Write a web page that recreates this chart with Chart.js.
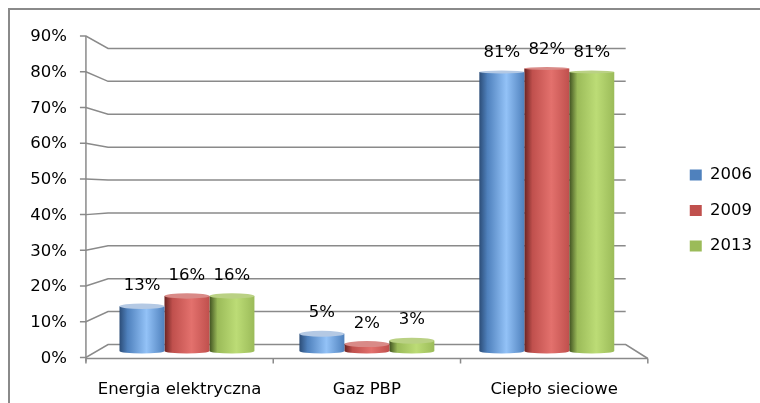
<!DOCTYPE html>
<html lang="pl">
<head>
<meta charset="utf-8">
<title>Struktura zużycia energii</title>
<script src="https://cdn.jsdelivr.net/npm/chart.js@4.4.1/dist/chart.umd.min.js"></script>
<style>
    html, body { margin: 0; padding: 0; background: #fff; overflow: hidden; }
    #okno { position: relative; width: 760px; height: 403px; overflow: hidden; }
    /* ramka obszaru wykresu (ucięta z prawej i od dołu) */
    #ramka { position: absolute; left: 8px; top: 8px; width: 820px; height: 460px; border: 2px solid #8a8a8a; }
    #wykres { position: absolute; left: 0; top: 0; }
</style>
</head>
<body>
<div id="okno">
    <div id="ramka"></div>
    <canvas id="wykres" width="760" height="403"></canvas>
</div>
<script>
// Dane
const kategorie = ['Energia elektryczna', 'Gaz PBP', 'Ciepło sieciowe'];
const lata = ['2006', '2009', '2013'];
const udzialy2006 = [13, 5, 81];
const udzialy2009 = [16, 2, 82];
const udzialy2013 = [16, 3, 81];
const podzialkaY = [0, 10, 20, 30, 40, 50, 60, 70, 80, 90];

const serie = [udzialy2006, udzialy2009, udzialy2013];

// Kolory walców: ciemna krawędź, środek, odblask, wieczko
const kolory = [
    { ciemny: '#2c4d78', sredni: '#4f81bd', jasny: '#93c2f7', wieczko: '#b4c9e4' },
    { ciemny: '#6a2321', sredni: '#c0504d', jasny: '#e3716d', wieczko: '#d98a87' },
    { ciemny: '#405220', sredni: '#9bbb59', jasny: '#bcdc76', wieczko: '#bad184' }
];

const czcionka = '"DejaVu Sans", sans-serif';
const rozmiar = 16.5;

// Gradient poziomy dla każdego słupka (efekt walca)
function walec(context) {
    const kolor = kolory[context.datasetIndex];
    const xs = context.chart.scales.x;
    if (context.type !== 'data' || !xs) return kolor.sredni;
    const n = context.chart.data.datasets.length;
    const slot = xs.getPixelForValue(1) - xs.getPixelForValue(0);
    const szer = slot * 0.75 / n;
    const srodek = xs.getPixelForValue(context.dataIndex) + (context.datasetIndex - (n - 1) / 2) * szer;
    if (!Number.isFinite(srodek) || !Number.isFinite(szer) || szer <= 0) return kolor.sredni;
    const g = context.chart.ctx.createLinearGradient(srodek - szer / 2, 0, srodek + szer / 2, 0);
    g.addColorStop(0, kolor.ciemny);
    g.addColorStop(0.18, kolor.sredni);
    g.addColorStop(0.6, kolor.jasny);
    g.addColorStop(1, kolor.sredni);
    return g;
}

// Przeliczenie pikseli skali na przednią krawędź i tylną ścianę (perspektywa)
function rama(chart) {
    const { left, right, bottom } = chart.chartArea;
    const cx = (left + right) / 2;
    const oy = chart.scales.y;
    return {
        przodY: v => bottom + 6.5 - (bottom - oy.getPixelForValue(v)) * 1.037,
        tylY: v => bottom - 6.5 - (bottom - oy.getPixelForValue(v)) * 0.955,
        przodX: px => cx + (px - cx) * 1.041,
        tylX: px => cx + (px - cx) * 0.959,
        left, right
    };
}

const przestrzen3d = {
    id: 'przestrzen3d',
    beforeDatasetsDraw(chart) {
        const ctx = chart.ctx;
        const r = rama(chart);
        const x0 = r.przodX(r.left), x1 = r.przodX(r.right);
        const b0 = r.tylX(r.left), b1 = r.tylX(r.right);
        const zero = r.przodY(0);
        const szczyt = podzialkaY[podzialkaY.length - 1];

        ctx.save();
        ctx.strokeStyle = '#8a8a8a';
        ctx.lineWidth = 1.5;

        // siatka na tylnej ścianie + ukośne łączniki do osi
        podzialkaY.forEach(v => {
            ctx.beginPath();
            ctx.moveTo(x0 - 6, r.przodY(v));
            ctx.lineTo(x0, r.przodY(v));
            ctx.lineTo(b0, r.tylY(v));
            ctx.lineTo(b1, r.tylY(v));
            if (v === 0) ctx.lineTo(x1, zero + 1);
            ctx.stroke();
        });

        // oś pionowa
        ctx.beginPath();
        ctx.moveTo(x0, r.przodY(szczyt));
        ctx.lineTo(x0, zero + 4);
        ctx.stroke();

        // przednia krawędź podłogi i znaczniki kategorii
        ctx.beginPath();
        ctx.moveTo(x0, zero + 1);
        ctx.lineTo(x1, zero + 1);
        for (let i = 0; i <= kategorie.length; i++) {
            const x = x0 + (x1 - x0) * i / kategorie.length;
            ctx.moveTo(x, zero + 1);
            ctx.lineTo(x, zero + 6);
        }
        ctx.stroke();

        // opisy osi
        ctx.fillStyle = '#000';
        ctx.font = rozmiar + 'px ' + czcionka;
        ctx.textAlign = 'right';
        ctx.textBaseline = 'middle';
        podzialkaY.forEach(v => ctx.fillText(v + '%', x0 - 19, r.przodY(v) + 1));

        ctx.textAlign = 'center';
        ctx.textBaseline = 'alphabetic';
        kategorie.forEach((k, i) => {
            ctx.fillText(k, r.przodX(chart.scales.x.getPixelForValue(i)), zero + 36);
        });
        ctx.restore();
    },
    afterDatasetsDraw(chart) {
        const ctx = chart.ctx;
        ctx.save();
        chart.data.datasets.forEach((ds, di) => {
            chart.getDatasetMeta(di).data.forEach((bar, i) => {
                const { x, y, base, width } = bar.getProps(['x', 'y', 'base', 'width'], true);
                const rx = width / 2;
                const ryT = 1.5 + Math.min(Math.max((y - 70) / 270, 0), 1) * 1.5;

                // zaokrąglone dno
                ctx.fillStyle = bar.options.backgroundColor;
                ctx.beginPath();
                ctx.ellipse(x, base, rx, 2.5, 0, 0, Math.PI);
                ctx.fill();

                // wieczko
                ctx.fillStyle = kolory[di].wieczko;
                ctx.beginPath();
                ctx.ellipse(x, y, rx, ryT, 0, 0, Math.PI * 2);
                ctx.fill();

                // etykieta wartości
                ctx.fillStyle = '#000';
                ctx.font = rozmiar + 'px ' + czcionka;
                ctx.textAlign = 'center';
                ctx.textBaseline = 'alphabetic';
                ctx.fillText(ds.data[i] + '%', x, y - ryT - 13.5);
            });
        });
        ctx.restore();
    }
};

new Chart(document.getElementById('wykres'), {
    type: 'bar',
    data: {
        labels: kategorie,
        datasets: lata.map((rok, i) => ({
            label: rok,
            data: serie[i],
            backgroundColor: walec,
            borderWidth: 0,
            categoryPercentage: 0.75,
            barPercentage: 1
        }))
    },
    options: {
        responsive: false,
        animation: false,
        devicePixelRatio: 1,
        layout: { padding: { top: 41, left: 0, right: -2, bottom: 23 } },
        plugins: {
            legend: {
                position: 'right',
                labels: {
                    boxWidth: 12,
                    boxHeight: 11,
                    padding: 19,
                    color: '#000',
                    font: { family: czcionka, size: rozmiar }
                }
            },
            tooltip: { enabled: false }
        },
        scales: {
            x: {
                ticks: { display: false },
                grid: { display: false },
                border: { display: false },
                afterFit(s) { s.height = 29; }
            },
            y: {
                min: 0,
                max: 90,
                ticks: { display: false, stepSize: 10 },
                grid: { display: false },
                border: { display: false },
                afterFit(s) { s.width = 97; }
            },
            // pusty pas między obszarem słupków a legendą
            margines: {
                type: 'linear',
                axis: 'y',
                position: 'right',
                ticks: { display: false },
                grid: { display: false },
                border: { display: false },
                afterFit(s) { s.width = 34; }
            }
        }
    },
    plugins: [przestrzen3d]
});
</script>
</body>
</html>
